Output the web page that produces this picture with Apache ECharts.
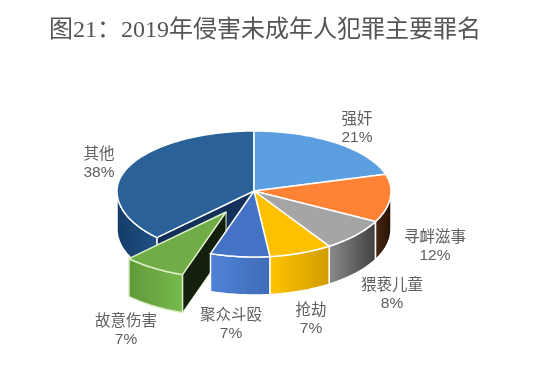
<!DOCTYPE html>
<html>
<head>
<meta charset="utf-8">
<style>
html, body { margin: 0; padding: 0; background: #fff; }
#main { width: 540px; height: 371px; }
</style>
<script src="https://cdn.jsdelivr.net/npm/echarts@6/dist/echarts.min.js"></script>
</head>
<body>
<div id="main"></div>
<script>
var titleText = '图21：2019年侵害未成年人犯罪主要罪名';
var categories = ['强奸', '寻衅滋事', '猥亵儿童', '抢劫', '聚众斗殴', '故意伤害', '其他'];
// shares as measured from the slice angles, they round to the printed percentages
var shares = [20.5, 12.2, 8.1, 7.4, 7.0, 7.4, 37.5];

var topColors = ['#5b9fe0', '#ff8235', '#a5a5a5', '#ffc000', '#4472c4', '#70ad47', '#2a6199'];
var wallColors = [
    ['#5b9fe0', '#5b9fe0'],
    ['#4a2812', '#241006'],
    ['#8c8c8c', '#3f3f3f'],
    ['#ffc400', '#d09c00'],
    ['#4f82d8', '#3f6cb8'],
    ['#5f9a3a', '#78ba4c'],
    ['#163b66', '#1f5288']
];
var cutColors = { 5: '#141f0e', 6: '#14305a' };
var outlineColors = { 5: '#dcefc8' };
var labelPos = [[357, 129], [435, 247], [392, 295], [311, 320], [231, 325], [126, 331], [99, 164]];

var drawOrder = [6, 0, 1, 2, 3, 5, 4];
var depth = 38;
var frontScale = 1.1;
var explode = { 5: [-0.204, -0.35] };

var chart = echarts.init(document.getElementById('main'));

var starts = [];
var sum = 0;
shares.forEach(function (s) {
    starts.push(sum);
    sum += s;
});

function renderSlice(params, api) {
    var idx = api.value(2);
    var a0 = api.value(0) / sum * Math.PI * 2;
    var a1 = a0 + api.value(1) / sum * Math.PI * 2;
    var off = explode[idx] || [0, 0];
    var pt = function (a, r) {
        var x = Math.sin(a) * r;
        var y = Math.cos(a) * r;
        if (y < 0) y *= frontScale;
        return api.coord([x + off[0], y + off[1]]);
    };
    var down = function (p) {
        return [p[0], p[1] + depth];
    };
    var arc = function (from, to) {
        var out = [];
        var n = Math.max(2, Math.ceil((to - from) / 0.02));
        for (var i = 0; i <= n; i++) out.push(pt(from + (to - from) * i / n, 1));
        return out;
    };
    var line = outlineColors[idx] || '#fff';
    var children = [];

    if (cutColors[idx]) {
        var c = pt(a0, 0);
        var rim = pt(a0, 1);
        children.push({
            type: 'polygon',
            shape: { points: [c, rim, down(rim), down(c)] },
            style: { fill: cutColors[idx], stroke: line, lineWidth: 1 }
        });
    }

    // outer wall, only the part that faces the viewer
    var w0 = Math.max(a0, Math.PI / 2);
    var w1 = Math.min(a1, Math.PI * 1.5);
    if (w1 > w0) {
        var edge = arc(w0, w1);
        children.push({
            type: 'polygon',
            shape: { points: edge.concat(edge.map(down).reverse()) },
            style: {
                fill: new echarts.graphic.LinearGradient(0, 0, 1, 0, [
                    { offset: 0, color: wallColors[idx][0] },
                    { offset: 1, color: wallColors[idx][1] }
                ]),
                stroke: line,
                lineWidth: 1.5
            }
        });
    }

    children.push({
        type: 'polygon',
        shape: { points: [pt(a0, 0)].concat(arc(a0, a1)) },
        style: { fill: topColors[idx], stroke: line, lineWidth: 1.5, lineJoin: 'round' }
    });

    return { type: 'group', children: children };
}

function renderLabel(params, api) {
    var idx = api.value(2);
    return {
        type: 'text',
        x: labelPos[idx][0],
        y: labelPos[idx][1],
        style: {
            text: categories[idx] + '\n' + Math.round(api.value(1)) + '%',
            fill: '#5f5f5f',
            font: '15.5px "Liberation Sans", "Noto Sans CJK SC"',
            lineHeight: 18,
            align: 'center',
            verticalAlign: 'middle'
        }
    };
}

var sliceData = drawOrder.map(function (i) {
    return [starts[i], shares[i], i];
});

chart.setOption({
    animation: false,
    backgroundColor: '#fff',
    title: {
        text: titleText,
        left: 49,
        top: 19,
        padding: 0,
        textStyle: {
            color: '#555',
            fontSize: 24,
            fontWeight: 'normal',
            fontFamily: '"Liberation Serif", "Noto Sans CJK SC"'
        }
    },
    grid: { left: 117, top: 131, width: 274, height: 150 },
    xAxis: { type: 'value', min: -1, max: 1, show: false },
    yAxis: { type: 'value', min: -1.5, max: 1, show: false },
    series: [
        { type: 'custom', renderItem: renderSlice, data: sliceData, clip: false, silent: true, z: 2 },
        { type: 'custom', renderItem: renderLabel, data: sliceData, clip: false, silent: true, z: 3 }
    ]
});
</script>
</body>
</html>
